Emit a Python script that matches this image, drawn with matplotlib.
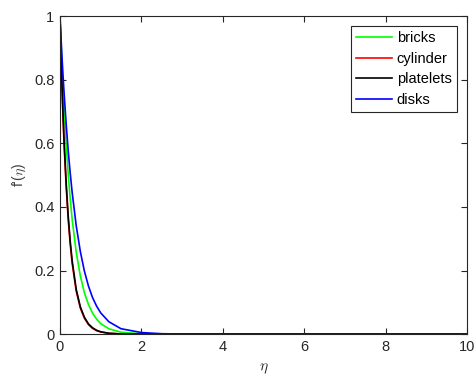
import numpy as np
from matplotlib import pyplot as plt

# values
eta = [0, 0.025, 0.05, 0.075, 0.1, 0.15, 0.2, 0.25, 0.3, 0.4, 0.5, 0.6, 0.7, 0.8, 0.9,
       1.0, 1.2, 1.5, 2.0, 2.5, 3.0, 10.0]
bricks = [1, 0.918, 0.84, 0.773, 0.71, 0.60, 0.507, 0.428, 0.36, 0.257, 0.183, 0.13,
          0.093, 0.066, 0.047, 0.033, 0.017, 0.006, 0.0011, 0.0002, 0, 0]
cylinder = [1, 0.882, 0.775, 0.682, 0.60, 0.47, 0.365, 0.285, 0.222, 0.135, 0.082, 0.05,
            0.03, 0.018, 0.011, 0.0068, 0.0025, 0.0005, 0.00005, 0, 0, 0]
platelets = [1, 0.885, 0.78, 0.69, 0.61, 0.48, 0.375, 0.294, 0.23, 0.14, 0.086, 0.053,
             0.032, 0.02, 0.012, 0.0074, 0.0028, 0.0006, 0.00006, 0, 0, 0]
disks = [1, 0.933, 0.87, 0.813, 0.76, 0.665, 0.58, 0.508, 0.445, 0.34, 0.26, 0.198,
         0.151, 0.115, 0.088, 0.067, 0.039, 0.017, 0.005, 0.0013, 0.0003, 0]

names = ['bricks', 'cylinder', 'platelets', 'disks']
colors = ['#00ff00', '#ff0000', '#000000', '#0000ff']
xticks = [0, 2, 4, 6, 8, 10]
yticks = [0, 0.2, 0.4, 0.6, 0.8, 1]

plt.rcParams['font.family'] = ['Liberation Sans', 'DejaVu Sans']
plt.rcParams['mathtext.fontset'] = 'cm'
grey = '#262626'

fig = plt.figure(figsize=(4.76, 3.81), dpi=100)
ax = fig.add_axes([0.126, 0.123, 0.855, 0.835])

for y, name, c in zip([bricks, cylinder, platelets, disks], names, colors):
    ax.plot(eta, y, color=c, lw=1.2, label=name)

ax.set_xlim(0, 10)
ax.set_ylim(0, 1)
ax.set_xticks(xticks)
ax.set_yticks(yticks)
ax.set_xticklabels([str(t) for t in xticks])
ax.set_yticklabels(['0', '0.2', '0.4', '0.6', '0.8', '1'])
ax.tick_params(direction='in', top=True, right=True, length=4, width=0.8,
               colors=grey, labelsize=10.5, pad=4)
for s in ax.spines.values():
    s.set_color(grey)
    s.set_linewidth(0.8)

ax.set_xlabel(r'$\eta$', fontsize=11, color=grey, labelpad=6)
ax.set_ylabel(r"f'($\eta$)", fontsize=10, color='#404040', labelpad=4)

leg = ax.legend(loc='upper right', fancybox=False, edgecolor=grey, fontsize=10.5,
                handlelength=2.5, handletextpad=0.3, borderpad=0.35, labelspacing=0.45,
                borderaxespad=0.7, framealpha=1)
leg.get_frame().set_linewidth(0.8)

fig.savefig('out.png', dpi=100)
